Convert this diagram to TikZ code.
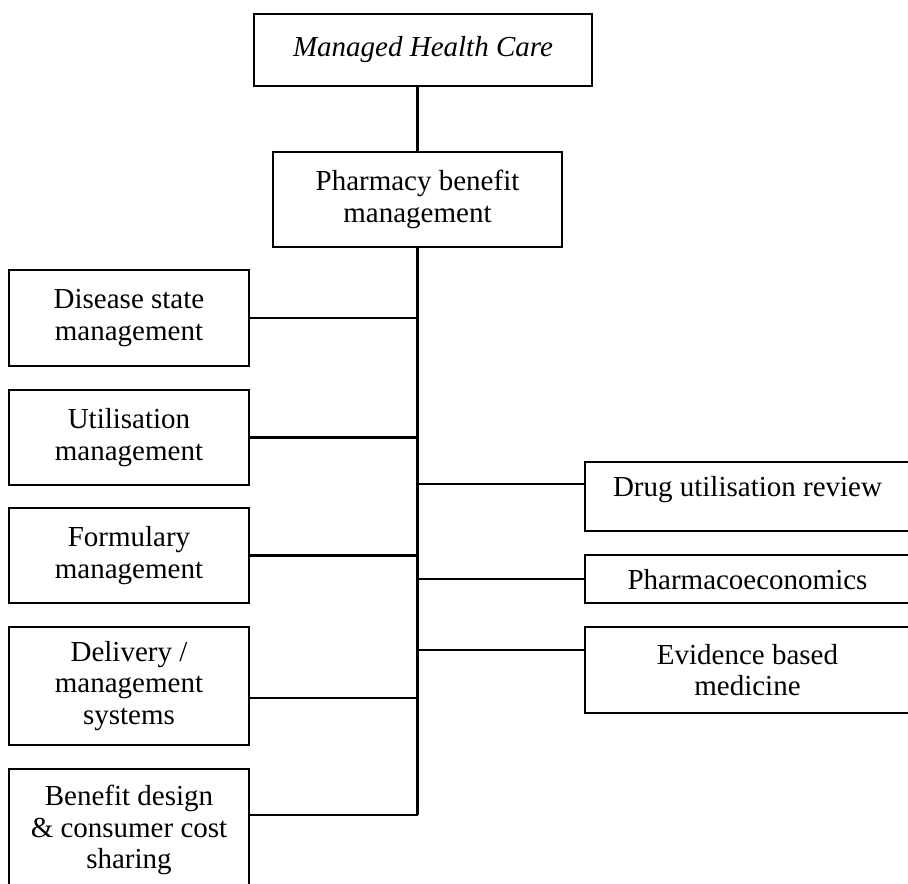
\documentclass[tikz,border=0pt]{standalone}
\usepackage{fontspec}
\setmainfont{Liberation Serif}
\newcommand\boxfont{\fontsize{16.5}{18}\selectfont}
\begin{document}
\begin{tikzpicture}[
  box/.style={draw,line width=1.4pt,align=center,inner sep=0pt,font=\boxfont},
  leftbox/.style={box,minimum width=4.8cm},
  rightbox/.style={box,minimum width=6.5cm},
  link/.style={line width=1.4pt}]
 \useasboundingbox (0,0) rectangle (18.16,-17.66);
 % top of the tree
 \node[box,font=\boxfont\itshape,minimum width=6.76cm,minimum height=1.44cm] (mhc) at (8.46,-1.0) {Managed Health Care};
 \node[box,minimum width=5.78cm,minimum height=1.9cm] (pbm) at (8.35,-3.99) {Pharmacy benefit\\management};
 % left column
 \node[leftbox,minimum height=1.92cm] (dsm) at (2.58,-6.36) {Disease state\\management};
 \node[leftbox,minimum height=1.9cm] (um) at (2.58,-8.75) {Utilisation\\management};
 \node[leftbox,minimum height=1.9cm] (fm) at (2.58,-11.11) {Formulary\\management};
 \node[leftbox,minimum height=2.36cm] (dms) at (2.58,-13.72) {Delivery /\\management\\systems};
 \node[leftbox,minimum height=2.44cm] (bd) at (2.58,-16.6) {Benefit design\\\& consumer cost\\sharing};
 % right column
 \node[rightbox,minimum height=1.38cm,text height=11.4pt,text depth=11pt] (dur) at (14.95,-9.93) {Drug utilisation review};
 \node[rightbox,minimum height=0.96cm,text height=16pt,text depth=3.6pt] (pe) at (14.95,-11.58) {Pharmacoeconomics};
 \node[rightbox,minimum height=1.72cm] (ebm) at (14.95,-13.4) {Evidence based\\medicine};
 % connectors
 \coordinate (stem) at (8.35,-16.3);
 \draw[link] (mhc.south -| pbm.north) -- (pbm.north);
 \draw[link] (pbm.south) -- (stem);
 \foreach \n/\s in {dsm/0,um/0,fm/0,dms/-0.24,bd/0.3}
  \draw[link] ([yshift=\s cm]\n.east) -- ([yshift=\s cm]\n.east -| stem);
 \foreach \n/\s in {dur/0.25,pe/0,ebm/0.4}
  \draw[link] ([yshift=\s cm]\n.west) -- ([yshift=\s cm]\n.west -| stem);
\end{tikzpicture}
\end{document}
